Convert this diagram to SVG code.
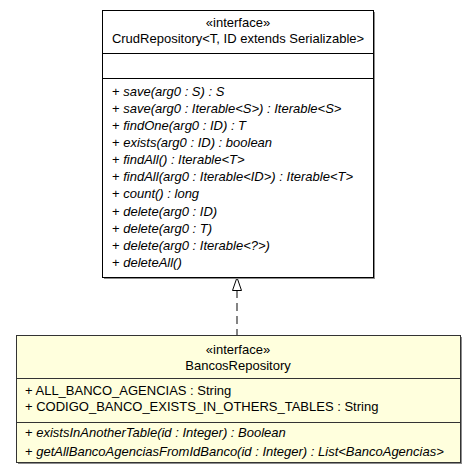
<svg xmlns="http://www.w3.org/2000/svg" width="476" height="475" viewBox="0 0 476 475">
<style>
text{font-family:"Liberation Sans",Arial,sans-serif;font-size:13px;fill:#000}
.c{text-anchor:middle}
.i{font-style:italic}
.sh{fill:#8c8c8c}
</style>
<rect width="476" height="475" fill="#fff"/>
<g id="connectors">
<line x1="237" y1="290" x2="237" y2="335" stroke="#333" stroke-width="1.2" stroke-dasharray="8,5"/>
<polygon points="237,277.5 232.5,290.5 241.5,290.5" fill="#fff" stroke="#000"/>
</g>
<g id="CrudRepository">
<rect x="104" y="12" width="271" height="267" class="sh"/>
<rect x="102.5" y="10.5" width="271" height="267" fill="#fff" stroke="#000"/>
<line x1="102.5" y1="53.5" x2="373.5" y2="53.5" stroke="#000"/>
<line x1="102.5" y1="78.5" x2="373.5" y2="78.5" stroke="#000"/>
<text x="238" y="26.5" class="c">«interface»</text>
<text x="238" y="42.5" class="c">CrudRepository&lt;T, ID extends Serializable&gt;</text>
<text x="112" y="95.5"><tspan>+ </tspan><tspan class="i">save(arg0 : S) : S</tspan></text>
<text x="112" y="112.5"><tspan>+ </tspan><tspan class="i">save(arg0 : Iterable&lt;S&gt;) : Iterable&lt;S&gt;</tspan></text>
<text x="112" y="129.5"><tspan>+ </tspan><tspan class="i">findOne(arg0 : ID) : T</tspan></text>
<text x="112" y="146.5"><tspan>+ </tspan><tspan class="i">exists(arg0 : ID) : boolean</tspan></text>
<text x="112" y="163.5"><tspan>+ </tspan><tspan class="i">findAll() : Iterable&lt;T&gt;</tspan></text>
<text x="112" y="180.5"><tspan>+ </tspan><tspan class="i">findAll(arg0 : Iterable&lt;ID&gt;) : Iterable&lt;T&gt;</tspan></text>
<text x="112" y="198"><tspan>+ </tspan><tspan class="i">count() : long</tspan></text>
<text x="112" y="215.5"><tspan>+ </tspan><tspan class="i">delete(arg0 : ID)</tspan></text>
<text x="112" y="232.5"><tspan>+ </tspan><tspan class="i">delete(arg0 : T)</tspan></text>
<text x="112" y="249.5"><tspan>+ </tspan><tspan class="i">delete(arg0 : Iterable&lt;?&gt;)</tspan></text>
<text x="112" y="267"><tspan>+ </tspan><tspan class="i">deleteAll()</tspan></text>
</g>
<g id="BancosRepository">
<rect x="18" y="337" width="444" height="127" class="sh"/>
<rect x="16.5" y="335.5" width="444" height="127" fill="#ffffdd" stroke="#333"/>
<line x1="16.5" y1="378.5" x2="460.5" y2="378.5" stroke="#333"/>
<line x1="16.5" y1="422.5" x2="460.5" y2="422.5" stroke="#333"/>
<text x="238" y="353.5" class="c">«interface»</text>
<text x="238" y="369.5" class="c">BancosRepository</text>
<text x="25" y="394.5">+ ALL_BANCO_AGENCIAS : String</text>
<text x="25" y="411">+ CODIGO_BANCO_EXISTS_IN_OTHERS_TABLES : String</text>
<text x="25" y="437"><tspan>+ </tspan><tspan class="i">existsInAnotherTable(id : Integer) : Boolean</tspan></text>
<text x="25" y="456"><tspan>+ </tspan><tspan class="i">getAllBancoAgenciasFromIdBanco(id : Integer) : List&lt;BancoAgencias&gt;</tspan></text>
</g>
</svg>
